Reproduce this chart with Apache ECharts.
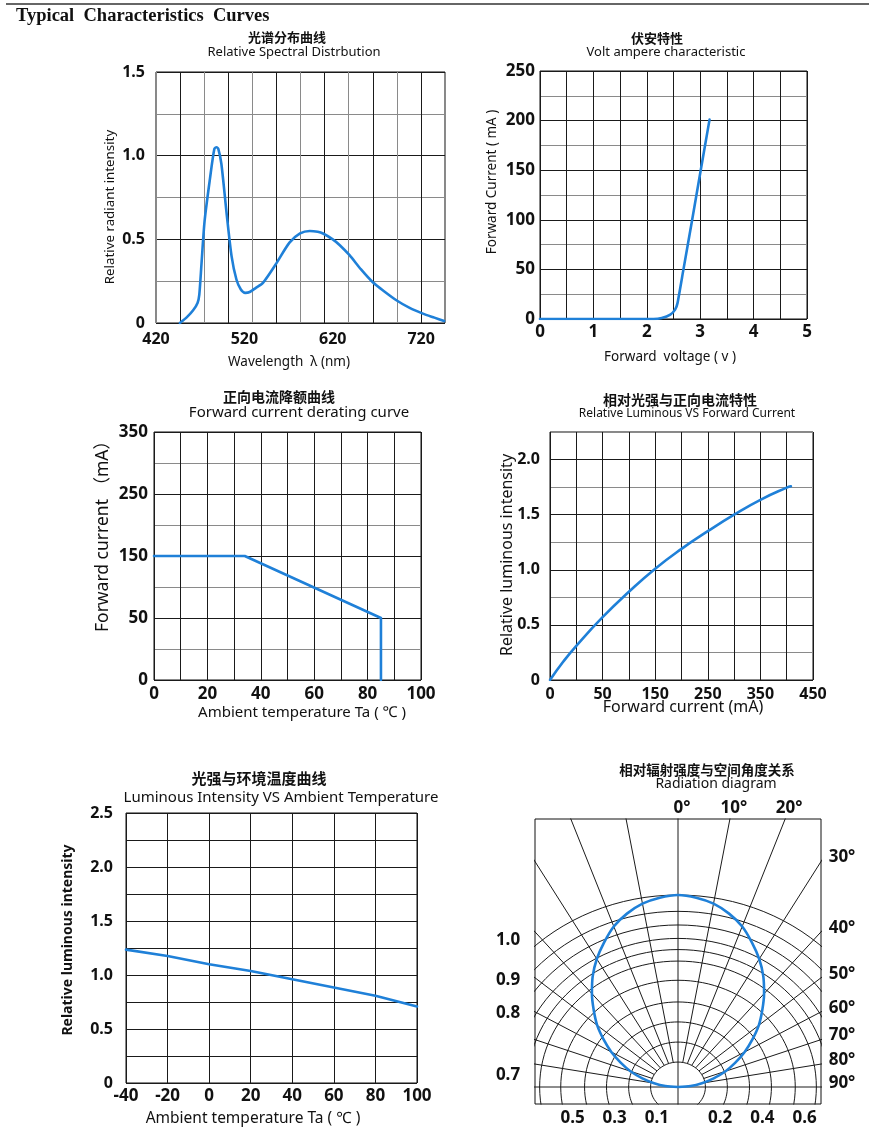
<!DOCTYPE html>
<html><head><meta charset="utf-8">
<script src="https://cdn.jsdelivr.net/npm/echarts@6.0.0/dist/echarts.min.js"></script>
<style>html,body{margin:0;padding:0;background:#fff}#c{width:869px;height:1143px}</style>
</head><body><div id="c"></div>
<script>
// ---------- DATA ----------
// 1. Relative spectral distribution
const specWavelength = [447,455,462,467,469,471.5,475,481,486,488.5,490.5,494,500,505.5,511,516,521,526,533,541,556,571,583,594,603,609,620,628,639,652,665,678,692,707,722,735,746];
const specIntensity  = [0,0.035,0.076,0.12,0.17,0.355,0.61,0.86,1.04,1.05,1.04,0.95,0.65,0.40,0.26,0.20,0.18,0.185,0.21,0.24,0.355,0.48,0.535,0.55,0.545,0.535,0.50,0.465,0.405,0.32,0.245,0.19,0.136,0.09,0.056,0.032,0.012];
const specXTicks = [420,520,620,720];
// 2. Volt-ampere characteristic
const vaVoltage = [0,2.125,2.28,2.44,2.53,2.575,2.68,2.84,3.0,3.175];
const vaCurrent = [0,0,1,4.4,9.4,16,48,97,147,201];
// 3. Forward current derating curve (y axis of the original: bottom labelled "0", then 50,150,250,350)
const derTemp    = [0,34,85,85];
const derCurrent = [150,150,50,-50];
const derYTicks  = [-50,50,150,250,350];
const derYLabels = ['0','50','150','250','350'];
// 4. Relative luminous vs forward current (x axis: left edge labelled "0", then 50,150,...)
const lumCurrent = [-50,-25,0,50,100,150,200,250,300,350,400,408];
const lumRel     = [0,0.165,0.31,0.57,0.80,1.01,1.19,1.35,1.50,1.635,1.745,1.757];
const lumXTicks  = [-50,50,150,250,350,450];
const lumXLabels = ['0','50','150','250','350','450'];
// 5. Luminous intensity vs ambient temperature
const tempC   = [-40,-20,0,20,40,60,80,100];
const lumTemp = [1.235,1.176,1.10,1.037,0.96,0.884,0.807,0.708];
// 6. Radiation diagram
const radAngles    = [0,5,10,15,20,25,30,35,40,45,50,55,60,65,70,75,80,85,90];
const radIntensity = [1.0,0.99,0.97,0.935,0.89,0.83,0.77,0.705,0.635,0.565,0.50,0.43,0.365,0.30,0.24,0.175,0.115,0.06,0];
const radArcRadii  = [0.13,0.234,0.339,0.443,0.556,0.656,0.716,0.774,0.844,0.915,1.0];
const radSpokes    = [10,20,30,40,50,60,70,80];
const radTopAngleLabels   = [0,10,20];
const radRightAngleLabels = [30,40,50,60,70,80,90];
const radBottomTicks = [-0.5,-0.3,-0.1,0.2,0.4,0.6];
const radLeftLabels  = ['1.0','0.9','0.8','0.7'];

// ---------- STYLE ----------
const FONT = '"Noto Sans","Noto Sans CJK SC",sans-serif';
const CJK = '"Noto Sans CJK SC",sans-serif';
const BLUE = '#1f80d8';
const DARK = '#1a1a1a', GRAY = '#8a8a8a';
const zip = (a,b) => a.map((v,i)=>[v,b[i]]);

const chart = echarts.init(document.getElementById('c'), null, {renderer:'canvas'});

function grid(l,t,w,h){return {left:l,top:t,width:w,height:h,show:true,borderColor:'#111',borderWidth:1,backgroundColor:'transparent'};}
function lbl(size,extra){return Object.assign({color:'#111',fontFamily:FONT,fontWeight:'bold',fontSize:size},extra||{});}
function split(colors){return {show:true,lineStyle:{color:colors,width:1}};}
const noLine = {show:false}, noTick={show:false};

const grids = [
  grid(156,72,289,251),
  grid(540,71,267,248),
  grid(154,432,267,248),
  grid(550,432,263,248),
  grid(126,813,291,270),
  grid(535,819,286,285)
];

const xAxes = [
  {gridIndex:0,type:'value',min:0,max:12,interval:1,position:'bottom',axisLine:noLine,axisTick:noTick,axisLabel:{show:false},splitLine:split([GRAY,DARK])},
  {gridIndex:0,type:'value',min:420,max:747,position:'bottom',axisLine:noLine,axisTick:noTick,splitLine:{show:false},
    axisLabel:lbl(16,{customValues:specXTicks,margin:8,showMinLabel:true,showMaxLabel:true})},
  {gridIndex:1,type:'value',min:0,max:5,interval:0.5,axisLine:noLine,axisTick:noTick,splitLine:split([DARK]),
    axisLabel:lbl(17,{margin:5,formatter:v=>Number.isInteger(v)?String(v):''})},
  {gridIndex:2,type:'value',min:0,max:100,interval:10,axisLine:noLine,axisTick:noTick,splitLine:split([DARK]),
    axisLabel:lbl(17,{margin:6,formatter:v=>v%20===0?String(v):''})},
  {gridIndex:3,type:'value',min:-50,max:450,interval:50,axisLine:noLine,axisTick:noTick,splitLine:split([DARK]),
    axisLabel:lbl(16,{margin:6,formatter:v=>{const i=lumXTicks.indexOf(v);return i>=0?lumXLabels[i]:'';}})},
  {gridIndex:4,type:'value',min:-40,max:100,interval:20,axisLine:noLine,axisTick:noTick,splitLine:split([DARK]),
    axisLabel:lbl(17,{margin:5})},
  {gridIndex:5,type:'value',min:-0.678,max:0.678,axisLine:noLine,axisTick:noTick,splitLine:{show:false},
    axisLabel:lbl(17,{customValues:radBottomTicks,margin:6,formatter:v=>Math.abs(v).toFixed(1)})}
];
const halfStep = v=>v===0?'0':(Math.abs(v*2-Math.round(v*2))<1e-9?v.toFixed(1):'');
const yAxes = [
  {gridIndex:0,type:'value',min:0,max:1.5,interval:0.25,axisLine:noLine,axisTick:noTick,splitLine:split([DARK,GRAY]),
    axisLabel:lbl(16,{margin:11,formatter:halfStep})},
  {gridIndex:1,type:'value',min:0,max:250,interval:25,axisLine:noLine,axisTick:noTick,splitLine:split([DARK,GRAY]),
    axisLabel:lbl(17,{margin:5,formatter:v=>v%50===0?String(v):''})},
  {gridIndex:2,type:'value',min:-50,max:350,interval:50,axisLine:noLine,axisTick:noTick,splitLine:split([DARK,GRAY]),
    axisLabel:lbl(17,{margin:6,formatter:v=>{const i=derYTicks.indexOf(v);return i>=0?derYLabels[i]:'';}})},
  {gridIndex:3,type:'value',min:0,max:2.25,interval:0.25,axisLine:noLine,axisTick:noTick,splitLine:split([DARK,GRAY]),
    axisLabel:lbl(16,{margin:10,formatter:halfStep})},
  {gridIndex:4,type:'value',min:0,max:2.5,interval:0.25,axisLine:noLine,axisTick:noTick,splitLine:split([DARK]),
    axisLabel:lbl(16,{margin:13,formatter:halfStep})},
  {gridIndex:5,type:'value',min:-0.0885,max:1.396,axisLine:noLine,axisTick:noTick,splitLine:{show:false},axisLabel:{show:false}}
];

function curve(xi,yi,data,smooth){
  return {type:'line',xAxisIndex:xi,yAxisIndex:yi,data:data,showSymbol:false,symbol:'none',smooth:smooth||false,
    lineStyle:{color:BLUE,width:2.6,cap:'round',join:'round'},silent:true,animation:false,clip:true,z:5};
}
function gridLine(data){
  return {type:'line',xAxisIndex:6,yAxisIndex:5,data:data,showSymbol:false,symbol:'none',
    lineStyle:{color:'#1a1a1a',width:1},silent:true,animation:false,clip:true,z:2};
}
const rad = d => d*Math.PI/180;
const series = [
  curve(1,0,zip(specWavelength,specIntensity),0.25),
  curve(2,1,zip(vaVoltage,vaCurrent),0.15),
  curve(3,2,zip(derTemp,derCurrent),false),
  curve(4,3,zip(lumCurrent,lumRel),0.5),
  curve(5,4,zip(tempC,lumTemp),false)
];
radArcRadii.forEach(r=>{
  const pts=[]; for(let a=0;a<=360;a+=3){pts.push([r*Math.sin(rad(a)), r*Math.cos(rad(a))]);}
  series.push(gridLine(pts));
});
const r0 = radArcRadii[0];
radSpokes.forEach(a=>{
  [a,-a].forEach(s=>series.push(gridLine([[r0*Math.sin(rad(s)),r0*Math.cos(rad(s))],[3*Math.sin(rad(s)),3*Math.cos(rad(s))]])));
});
series.push(gridLine([[0,-1],[0,3]]));
series.push(gridLine([[-3,0],[3,0]]));
const radPts = [];
for(let i=radAngles.length-1;i>0;i--){const a=-radAngles[i];radPts.push([radIntensity[i]*Math.sin(rad(a)),radIntensity[i]*Math.cos(rad(a))]);}
radAngles.forEach((a,i)=>radPts.push([radIntensity[i]*Math.sin(rad(a)),radIntensity[i]*Math.cos(rad(a))]));
series.push(curve(6,5,radPts,0.3));

chart.setOption({animation:false,backgroundColor:'#fff',grid:grids,xAxis:xAxes,yAxis:yAxes,series:series});

// ---------- TEXT ----------
function txt(text,x,y,size,opt){
  opt=opt||{};
  return {type:'text',x:x,y:y,rotation:opt.rot||0,silent:true,z:10,
    style:{text:text,x:0,y:0,font:(opt.weight||'normal')+' '+size+'px '+(opt.family||FONT),fill:'#111',
      textAlign:opt.align||'center',align:opt.align||'center',textVerticalAlign:'middle',verticalAlign:'middle'}};
}
const g = [];
g.push({type:'line',silent:true,shape:{x1:6,y1:4,x2:869,y2:4},style:{stroke:'#333',lineWidth:1.5}});
g.push(txt('Typical  Characteristics  Curves',16,16,18.5,{weight:'bold',family:'"Liberation Serif",serif',align:'left'}));
const titles = [
  ['光谱分布曲线',287,37,13,'Relative Spectral Distrbution',294,52,13],
  ['伏安特性',657,38,13,'Volt ampere characteristic',666,52,13],
  ['正向电流降额曲线',279,397,14,'Forward current derating curve',299,413,15],
  ['相对光强与正向电流特性',680,400,14,'Relative Luminous VS Forward Current',687,414,12],
  ['光强与环境温度曲线',259,778,15,'Luminous Intensity VS Ambient Temperature',281,798,15],
  ['相对辐射强度与空间角度关系',707,770,13.5,'Radiation diagram',716,784,14]
];
titles.forEach(t=>{
  g.push(txt(t[0],t[1],t[2],t[3],{weight:'bold',family:CJK}));
  g.push(txt(t[4],t[5],t[6],t[7]));
});
g.push(txt('Wavelength  λ (nm)',289,362,13.5));
g.push(txt('Relative radiant intensity',110,207,13.3,{rot:Math.PI/2}));
g.push(txt('Forward  voltage ( v )',670,357,13.5));
g.push(txt('Forward Current ( mA )',492,182,13.5,{rot:Math.PI/2}));
g.push(txt('Ambient temperature Ta ( ℃ )',302,713,15));
g.push(txt('Forward current （mA）',103,532,17.5,{rot:Math.PI/2}));
g.push(txt('Forward current (mA)',683,707,16));
g.push(txt('Relative luminous intensity',507,555,16,{rot:Math.PI/2}));
g.push(txt('Ambient temperature Ta ( ℃ )',253,1119,15.5));
g.push(txt('Relative luminous intensity',68,940,14,{rot:Math.PI/2,weight:'bold'}));
const finder = {xAxisIndex:6,yAxisIndex:5};
const yTop = 1.396, xRight = 0.678;
radTopAngleLabels.forEach(a=>{
  const p = chart.convertToPixel(finder,[yTop*Math.tan(rad(a)),yTop]);
  g.push(txt(a+'°',p[0]+4,p[1]-11,17,{weight:'bold'}));
});
radRightAngleLabels.forEach(a=>{
  const y = a===90?0:xRight/Math.tan(rad(a));
  const p = chart.convertToPixel(finder,[xRight,y]);
  g.push(txt(a+'°',p[0]+21,p[1]-4,17,{weight:'bold'}));
});
const leftY = [940,980,1013,1075];
radLeftLabels.forEach((s,i)=>g.push(txt(s,508,leftY[i],17,{weight:'bold'})));
chart.setOption({graphic:{elements:g}});
</script>
</body></html>
